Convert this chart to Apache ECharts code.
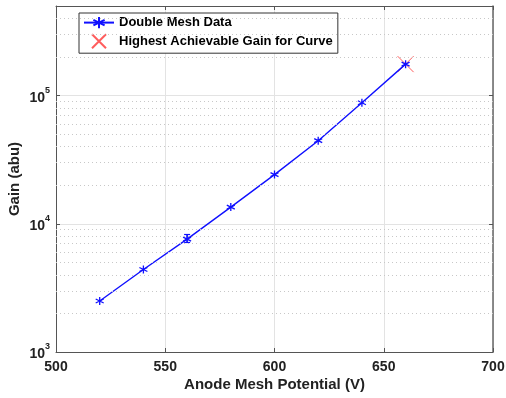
<!DOCTYPE html>
<html>
<head>
<meta charset="utf-8">
<script src="https://cdn.jsdelivr.net/npm/echarts@6/dist/echarts.min.js"></script>
<style>
  html, body { margin: 0; padding: 0; background: #fff; }
  #chart { width: 506px; height: 398px; }
</style>
</head>
<body>
<div id="chart"></div>
<script>
// data
const voltages = [520, 540, 560, 580, 600, 620, 640, 660];
const gains = [2500, 4400, 7600, 13500, 24200, 44500, 88000, 176000];
// [x, low, high]
const errorBars = [[560, 7150, 8250]];
const peakPoint = [660, 176000];
const xTicks = [500, 550, 600, 650, 700];
const yMinorLines = [
  2000, 3000, 4000, 5000, 6000, 7000, 8000, 9000,
  20000, 30000, 40000, 50000, 60000, 70000, 80000, 90000,
  200000, 300000, 400000
];

const font = "'Liberation Sans', Helvetica, Arial, sans-serif";
const chartDom = document.getElementById("chart");
const chart = echarts.init(chartDom);

const asterisk = "path://M0,-5L0,5M-4.3,-2.5L4.3,2.5M-4.3,2.5L4.3,-2.5";
const cross = "path://M-5,-5L5,5M-5,5L5,-5";

const option = {
  animation: false,
  grid: { left: 56, right: 13, top: 6, bottom: 46, outerBoundsMode: "none", containLabel: false },
  legend: {
    orient: "vertical",
    left: 79,
    top: 13,
    padding: [3, 5, 4, 4],
    itemGap: 4,
    itemWidth: 30,
    itemHeight: 14,
    borderColor: "#333",
    borderWidth: 1,
    backgroundColor: "#fff",
    textStyle: { color: "#000", fontWeight: "bold", fontSize: 13, fontFamily: font },
    data: ["Double Mesh Data", "Highest Achievable Gain for Curve"]
  },
  xAxis: [
    {
      type: "value",
      min: 500,
      max: 700,
      interval: 50,
      name: "Anode Mesh Potential (V)",
      nameLocation: "middle",
      nameGap: 25,
      nameMoveOverlap: false,
      nameTextStyle: { color: "#222", fontWeight: "bold", fontSize: 15, fontFamily: font },
      axisLine: { lineStyle: { color: "#555", width: 1 } },
      axisTick: { inside: true, length: 4, lineStyle: { color: "#555" } },
      axisLabel: { color: "#222", fontWeight: "bold", fontSize: 14, fontFamily: font, margin: 8,
        formatter: (v) => (xTicks.includes(v) ? String(v) : "") },
      splitLine: { show: true, lineStyle: { color: "#e3e3e3", width: 1 } }
    },
    {
      type: "value",
      position: "top",
      min: 500,
      max: 700,
      interval: 50,
      axisLine: { lineStyle: { color: "#555", width: 1 } },
      axisTick: { inside: true, length: 4, lineStyle: { color: "#555" } },
      axisLabel: { show: false },
      splitLine: { show: false }
    }
  ],
  yAxis: [
    {
      type: "log",
      logBase: 10,
      min: 1000,
      max: 500000,
      name: "Gain (abu)",
      nameLocation: "middle",
      nameGap: 34,
      nameMoveOverlap: false,
      nameRotate: 90,
      nameTextStyle: { color: "#222", fontWeight: "bold", fontSize: 15, fontFamily: font },
      axisLine: { lineStyle: { color: "#555", width: 1 } },
      axisTick: { inside: true, length: 4, lineStyle: { color: "#555" } },
      axisLabel: {
        margin: 6,
        formatter: (v) => {
          const p = Math.round(Math.log10(v));
          if (Math.abs(Math.log10(v) - p) > 1e-6) return "";
          return "{b|10}{s|" + p + "}";
        },
        rich: {
          b: { color: "#222", fontWeight: "bold", fontSize: 14, fontFamily: font, padding: [5, 0, 0, 0] },
          s: { color: "#222", fontWeight: "bold", fontSize: 9, fontFamily: font, verticalAlign: "top", padding: [0, 0, 7, 0] }
        }
      },
      splitLine: { show: true, lineStyle: { color: "#e3e3e3", width: 1 } }
    },
    {
      type: "log",
      logBase: 10,
      min: 1000,
      max: 500000,
      position: "right",
      axisLine: { show: true, lineStyle: { color: "#666", width: 1.5 } },
      axisTick: { show: true, inside: true, length: 4, lineStyle: { color: "#555" } },
      axisLabel: { show: false },
      splitLine: { show: false }
    }
  ],
  series: [
    {
      name: "minor grid",
      type: "line",
      data: [],
      silent: true,
      markLine: {
        silent: true,
        symbol: "none",
        label: { show: false },
        lineStyle: { color: "#c8c8c8", type: [1, 3], width: 1 },
        data: yMinorLines.map((v) => ({ yAxis: v }))
      }
    },
    {
      name: "Double Mesh Data",
      type: "line",
      data: voltages.map((v, i) => [v, gains[i]]),
      symbol: asterisk,
      symbolSize: 8,
      showAllSymbol: true,
      lineStyle: { color: "#1010ff", width: 1.4 },
      itemStyle: { color: "rgba(0,0,0,0)", borderColor: "#1010ff", borderWidth: 1.3 },
      z: 3
    },
    {
      name: "error",
      type: "custom",
      data: errorBars,
      renderItem: (params, api) => {
        const x = api.value(0);
        const lo = api.coord([x, api.value(1)]);
        const hi = api.coord([x, api.value(2)]);
        const w = 3;
        const st = { stroke: "#1010ff", lineWidth: 1.2 };
        return {
          type: "group",
          children: [
            { type: "line", shape: { x1: lo[0], y1: lo[1], x2: hi[0], y2: hi[1] }, style: st },
            { type: "line", shape: { x1: lo[0] - w, y1: lo[1], x2: lo[0] + w, y2: lo[1] }, style: st },
            { type: "line", shape: { x1: hi[0] - w, y1: hi[1], x2: hi[0] + w, y2: hi[1] }, style: st }
          ]
        };
      },
      z: 3
    },
    {
      name: "Highest Achievable Gain for Curve",
      type: "scatter",
      data: [peakPoint],
      symbol: cross,
      symbolSize: 16,
      itemStyle: { color: "rgba(0,0,0,0)", borderColor: "#ff3535", borderWidth: 1 },
      z: 2
    }
  ]
};

chart.setOption(option);
</script>
</body>
</html>
